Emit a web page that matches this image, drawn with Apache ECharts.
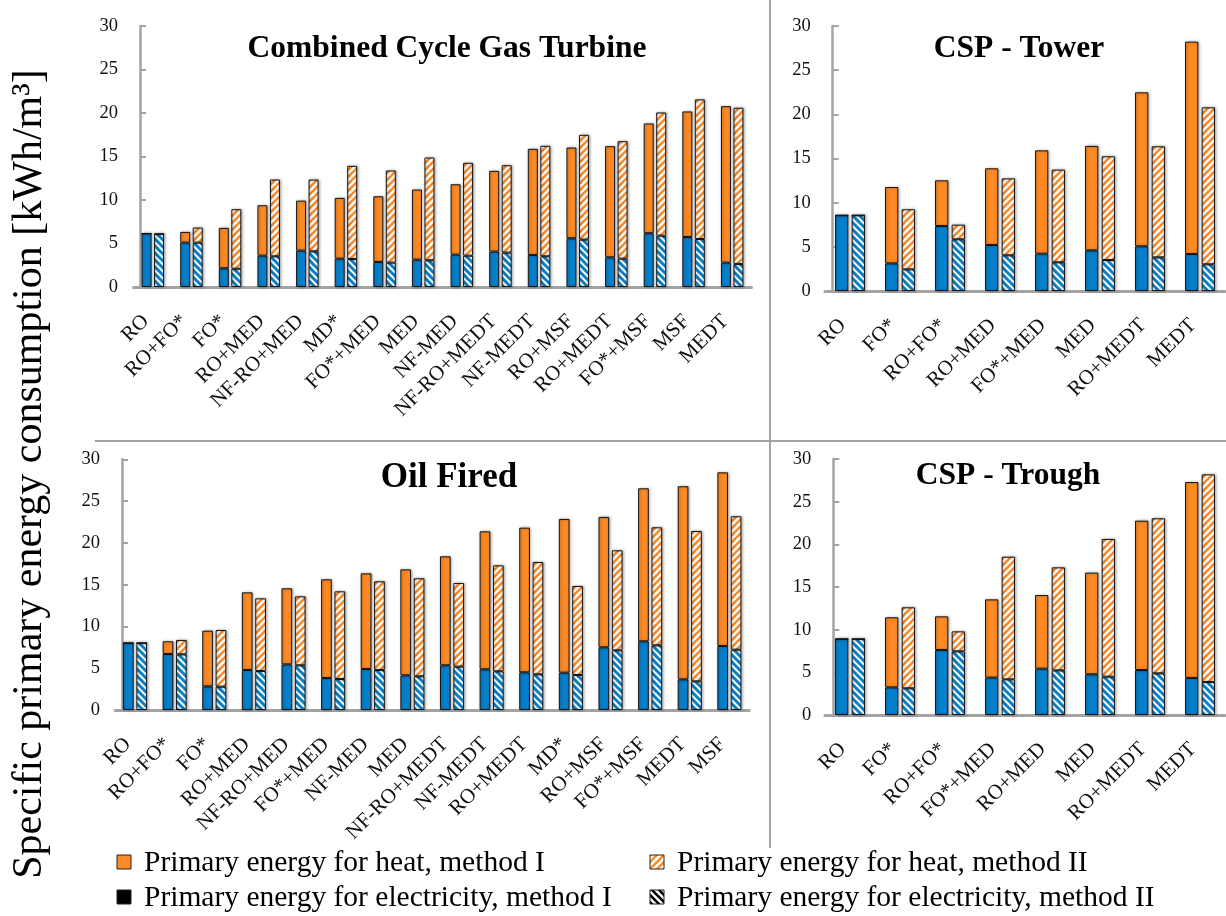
<!DOCTYPE html>
<html>
<head>
<meta charset="utf-8">
<script src="https://cdn.jsdelivr.net/npm/echarts@6/dist/echarts.min.js"></script>
<style>
  html, body { margin: 0; padding: 0; background: #fff; }
  #chart { width: 1226px; height: 916px; }
</style>
</head>
<body>
<div id="chart"></div>
<script>
// ---- Data: specific primary energy consumption [kWh/m3] ----
// Combined Cycle Gas Turbine
const ccgtCategories = ['RO', 'RO+FO*', 'FO*', 'RO+MED', 'NF-RO+MED', 'MD*', 'FO*+MED', 'MED',
  'NF-MED', 'NF-RO+MEDT', 'NF-MEDT', 'RO+MSF', 'RO+MEDT', 'FO*+MSF', 'MSF', 'MEDT'];
const ccgtElecI  = [6.15, 5.10, 2.15, 3.60, 4.18, 3.26, 2.88, 3.15, 3.72, 4.07, 3.68, 5.60, 3.41, 6.18, 5.75, 2.80];
const ccgtHeatI  = [0, 1.23, 4.64, 5.80, 5.75, 6.98, 7.55, 8.05, 8.09, 9.28, 12.20, 10.43, 12.78, 12.62, 14.43, 17.99];
const ccgtElecII = [6.10, 5.10, 2.10, 3.53, 4.10, 3.22, 2.80, 3.07, 3.60, 3.95, 3.53, 5.45, 3.26, 5.90, 5.52, 2.65];
const ccgtHeatII = [0, 1.73, 6.84, 8.82, 8.25, 10.70, 10.59, 11.81, 10.67, 10.05, 12.70, 12.04, 13.50, 14.16, 16.04, 17.95];

// CSP - Tower
const towerCategories = ['RO', 'FO*', 'RO+FO*', 'RO+MED', 'FO*+MED', 'MED', 'RO+MEDT', 'MEDT'];
const towerElecI  = [8.57, 3.13, 7.36, 5.21, 4.23, 4.60, 5.06, 4.19];
const towerHeatI  = [0, 8.64, 5.17, 8.68, 11.69, 11.82, 17.43, 24.04];
const towerElecII = [8.57, 2.45, 5.85, 4.04, 3.25, 3.51, 3.81, 3.02];
const towerHeatII = [0, 6.80, 1.66, 8.71, 10.49, 11.74, 12.57, 17.77];

// Oil Fired
const oilCategories = ['RO', 'RO+FO*', 'FO*', 'RO+MED', 'NF-RO+MED', 'FO*+MED', 'NF-MED', 'MED',
  'NF-RO+MEDT', 'NF-MEDT', 'RO+MEDT', 'MD*', 'RO+MSF', 'FO*+MSF', 'MEDT', 'MSF'];
const oilElecI  = [8.02, 6.70, 2.83, 4.79, 5.46, 3.83, 4.91, 4.15, 5.35, 4.87, 4.51, 4.47, 7.50, 8.22, 3.67, 7.66];
const oilHeatI  = [0, 1.52, 6.66, 9.29, 9.10, 11.81, 11.44, 12.68, 13.04, 16.51, 17.31, 18.39, 15.60, 18.31, 23.10, 20.78];
const oilElecII = [8.02, 6.66, 2.79, 4.67, 5.35, 3.71, 4.79, 4.03, 5.19, 4.63, 4.27, 4.19, 7.14, 7.74, 3.43, 7.22];
const oilHeatII = [0, 1.72, 6.78, 8.69, 8.25, 10.49, 10.61, 11.73, 10.01, 12.68, 13.44, 10.65, 11.97, 14.12, 17.99, 15.96];

// CSP - Trough
const troughCategories = ['RO', 'FO*', 'RO+FO*', 'FO*+MED', 'RO+MED', 'MED', 'RO+MEDT', 'MEDT'];
const troughElecI  = [8.91, 3.24, 7.62, 4.38, 5.43, 4.77, 5.27, 4.34];
const troughHeatI  = [0, 8.21, 3.94, 9.17, 8.63, 11.91, 17.50, 22.96];
const troughElecII = [8.91, 3.13, 7.46, 4.18, 5.23, 4.49, 4.88, 3.87];
const troughHeatII = [0, 9.49, 2.34, 14.37, 12.07, 16.14, 18.17, 24.33];

const yTicks = { min: 0, max: 30, interval: 5 };

const seriesNames = [
  'Primary energy for heat, method I',
  'Primary energy for heat, method II',
  'Primary energy for electricity, method I',
  'Primary energy for electricity, method II'
];
const panelTitles = ['Combined Cycle Gas Turbine', 'CSP - Tower', 'Oil Fired', 'CSP - Trough'];
const axisTitle = 'Specific primary energy consumption [kWh/m\u00B3]';

// ---- Styling ----
const BLUE = '#0780cc';
const ORANGE = '#fd8a24';
const GRAY = '#a3a3a3';
const FONT = 'Liberation Serif';

// Diagonal hatch tile: forward = "/" strokes, otherwise "\" strokes
function hatchTile(color, forward, width) {
  const s = 7;
  const c = document.createElement('canvas');
  c.width = s; c.height = s;
  const g = c.getContext('2d');
  g.fillStyle = '#fff';
  g.fillRect(0, 0, s, s);
  g.strokeStyle = color;
  g.lineWidth = width;
  for (const k of [-s, 0, s]) {
    g.beginPath();
    if (forward) { g.moveTo(k - 1, s + 1); g.lineTo(k + s + 1, -1); }
    else { g.moveTo(k - 1, -1); g.lineTo(k + s + 1, s + 1); }
    g.stroke();
  }
  return { image: c, repeat: 'repeat' };
}
const orangeHatch = hatchTile(ORANGE, true, 2.4);
const blueHatch = hatchTile(BLUE, false, 3);
const blackHatch = hatchTile('#000', false, 2.6);

const panels = [
  { cats: ccgtCategories, eI: ccgtElecI, hI: ccgtHeatI, eII: ccgtElecII, hII: ccgtHeatII,
    grid: { left: 133.5, top: 26, width: 618, height: 261 }, axisOffset: -6.5, barWidth: 10 },
  { cats: towerCategories, eI: towerElecI, hI: towerHeatI, eII: towerElecII, hII: towerHeatII,
    grid: { left: 825, top: 26, width: 400, height: 265 }, axisOffset: -7.7, barWidth: 13.3 },
  { cats: oilCategories, eI: oilElecI, hI: oilHeatI, eII: oilElecII, hII: oilHeatII,
    grid: { left: 115.2, top: 459.3, width: 634, height: 250.7 }, axisOffset: -6.8, barWidth: 10.7 },
  { cats: troughCategories, eI: troughElecI, hI: troughHeatI, eII: troughElecII, hII: troughHeatII,
    grid: { left: 825, top: 459, width: 400, height: 256 }, axisOffset: -8.3, barWidth: 13.3 }
];

// Title anchor points and sizes
const titleLayout = [
  { x: 447, y: 49, size: 31.5 },
  { x: 1019, y: 49, size: 31.5 },
  { x: 449, y: 478, size: 35 },
  { x: 1008, y: 476, size: 31.5 }
];

const grids = [], xAxes = [], yAxes = [], series = [];
const barBase = {
  type: 'bar',
  barGap: '25%',
  animation: false,
  silent: true
};
function barStyle(fill) {
  return {
    color: fill,
    borderColor: '#151515',
    borderWidth: 1,
    shadowBlur: 3,
    shadowOffsetX: 1,
    shadowOffsetY: 0,
    shadowColor: 'rgba(0,0,0,0.35)'
  };
}

panels.forEach((p, i) => {
  grids.push(Object.assign({ containLabel: false }, p.grid));
  xAxes.push({
    type: 'category', gridIndex: i, data: p.cats,
    axisLine: { lineStyle: { color: GRAY, width: 3 } },
    axisTick: { show: false },
    axisLabel: { interval: 0, rotate: 45, margin: 24, padding: [0, 10, 0, 0],
      fontFamily: FONT, fontSize: 21, color: '#111' }
  });
  yAxes.push({
    type: 'value', gridIndex: i, min: yTicks.min, max: yTicks.max, interval: yTicks.interval,
    offset: p.axisOffset,
    axisLine: { show: true, lineStyle: { color: GRAY, width: 2.5 } },
    axisTick: { show: true, inside: true, length: 6, lineStyle: { color: GRAY, width: 2 } },
    splitLine: { show: false },
    axisLabel: { margin: 22, fontFamily: FONT, fontSize: 18.5, color: '#111' }
  });
  const common = { xAxisIndex: i, yAxisIndex: i, barWidth: p.barWidth };
  series.push(Object.assign({}, barBase, common, {
    name: seriesNames[2], stack: 'I' + i, data: p.eI, itemStyle: barStyle(BLUE) }));
  series.push(Object.assign({}, barBase, common, {
    name: seriesNames[0], stack: 'I' + i, data: p.hI, itemStyle: barStyle(ORANGE) }));
  series.push(Object.assign({}, barBase, common, {
    name: seriesNames[3], stack: 'II' + i, data: p.eII, itemStyle: barStyle(blueHatch) }));
  series.push(Object.assign({}, barBase, common, {
    name: seriesNames[1], stack: 'II' + i, data: p.hII, itemStyle: barStyle(orangeHatch) }));
});

// Frame lines, titles, shared axis title and the legend
const graphics = [
  { type: 'line', shape: { x1: 770, y1: 0, x2: 770, y2: 848 }, style: { stroke: GRAY, lineWidth: 2 } },
  { type: 'line', shape: { x1: 95, y1: 441, x2: 1226, y2: 441 }, style: { stroke: GRAY, lineWidth: 2 } },
  { type: 'text', x: 30, y: 474, rotation: Math.PI / 2,
    style: { text: axisTitle, font: '42px "' + FONT + '"', fill: '#000', textAlign: 'center', textVerticalAlign: 'middle' } }
];
panelTitles.forEach((t, i) => {
  const L = titleLayout[i];
  graphics.push({ type: 'text', x: L.x, y: L.y,
    style: { text: t, font: 'bold ' + L.size + 'px "' + FONT + '"', fill: '#000', textAlign: 'center', textVerticalAlign: 'middle' } });
});
const legendItems = [
  { name: seriesNames[0], fill: ORANGE, x: 117, y: 862 },
  { name: seriesNames[1], fill: orangeHatch, x: 650, y: 862 },
  { name: seriesNames[2], fill: '#000', x: 117, y: 897 },
  { name: seriesNames[3], fill: blackHatch, x: 650, y: 897 }
];
legendItems.forEach(it => {
  graphics.push({ type: 'rect', shape: { x: it.x, y: it.y - 7, width: 14, height: 14 },
    style: { fill: it.fill, stroke: '#222', lineWidth: 1 } });
  graphics.push({ type: 'text', x: it.x + 27, y: it.y + 1,
    style: { text: it.name, font: '29.5px "' + FONT + '"', fill: '#000', textAlign: 'left', textVerticalAlign: 'middle' } });
});

const chart = echarts.init(document.getElementById('chart'), null, { renderer: 'canvas' });
chart.setOption({
  backgroundColor: '#fff',
  animation: false,
  grid: grids,
  xAxis: xAxes,
  yAxis: yAxes,
  series: series,
  graphic: graphics
});
</script>
</body>
</html>
